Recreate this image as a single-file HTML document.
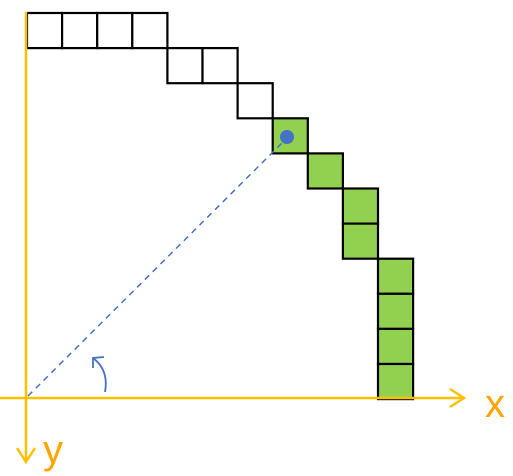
<!DOCTYPE html>
<html><head><meta charset="utf-8"><style>
html,body{margin:0;padding:0;background:#fff;width:513px;height:476px;overflow:hidden}
svg{display:block}
</style></head><body>
<svg width="513" height="476" viewBox="0 0 513 476">
<g id="cells"></g>
<line x1="26" y1="12" x2="26" y2="462" stroke="#FFC000" stroke-width="2.5"/>
<polyline points="17,448 26,462 35,448" fill="none" stroke="#FFC000" stroke-width="2.5"/>
<line x1="0" y1="398" x2="464" y2="398" stroke="#FFC000" stroke-width="2.5"/>
<polyline points="450,389 464,398 450,407" fill="none" stroke="#FFC000" stroke-width="2.5"/>
<text x="485" y="417" font-family="Liberation Sans, sans-serif" font-size="40" fill="#FFA500">x</text>
<text x="43" y="463" font-family="Liberation Sans, sans-serif" font-size="40" fill="#FFA500">y</text>
<line x1="28" y1="396" x2="283" y2="142" stroke="#4472C4" stroke-width="1.5" stroke-dasharray="6,5"/>
<circle cx="287" cy="137" r="7" fill="#4472C4"/>
<path d="M105,392 Q109,370 93,358" fill="none" stroke="#4472C4" stroke-width="1.8"/>
<polyline points="93,368 93,358 104,357" fill="none" stroke="#4472C4" stroke-width="1.8"/>
</svg>
<script>
const cellCols=[0,1,2,3,4,5,6,7,8,9,9,10,10,10,10];
const cellRows=[0,0,0,0,1,1,2,3,4,5,6,7,8,9,10];
const cellGreen=[0,0,0,0,0,0,0,1,1,1,1,1,1,1,1];
const g=document.getElementById('cells');
const S=35.1,X0=27,Y0=13;
for(let i=0;i<cellCols.length;i++){
  const r=document.createElementNS('http://www.w3.org/2000/svg','rect');
  r.setAttribute('x',X0+cellCols[i]*S);
  r.setAttribute('y',Y0+cellRows[i]*S);
  r.setAttribute('width',S);r.setAttribute('height',S);
  r.setAttribute('fill',cellGreen[i]?'#92D050':'#fff');
  r.setAttribute('stroke','#000');r.setAttribute('stroke-width','2.2');
  
  
  g.appendChild(r);
}
</script>
</body></html>
